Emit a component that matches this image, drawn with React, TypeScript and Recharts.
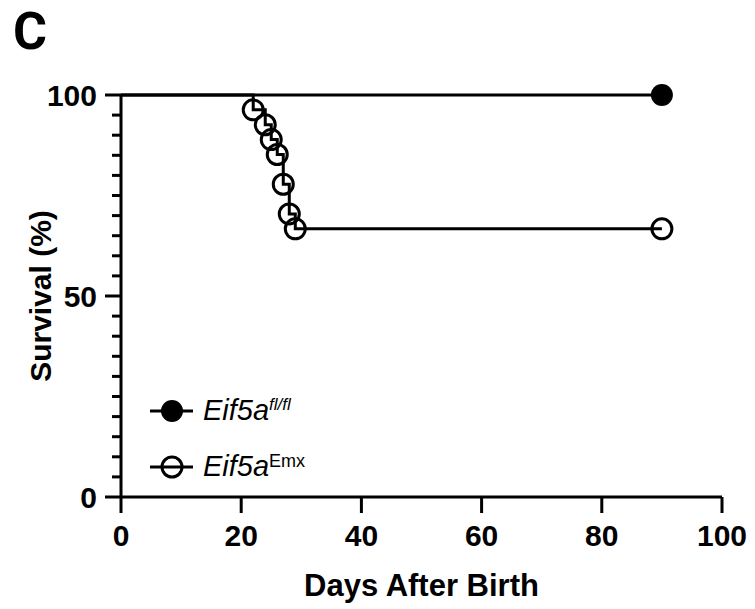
import React from "react";
import {
  LineChart, Line, XAxis, YAxis, Legend,
} from "recharts";

// Kaplan-Meier survival, days after birth
const flDays = [0, 90];
const flSurvival = [100, 100];

const emxDays = [0, 22, 24, 25, 26, 27, 28, 29, 90];
const emxSurvival = [100, 96.3, 92.6, 88.9, 85.2, 77.8, 70.4, 66.7, 66.7];

const xTicks = [0, 20, 40, 60, 80, 100];
const yTicks = [0, 5, 10, 15, 20, 25, 30, 35, 40, 45, 50, 55, 60, 65, 70, 75, 80, 85, 90, 95, 100];
const yLabeled = [0, 50, 100];

const flData = flDays.map((d, i) => ({ day: d, survival: flSurvival[i] }));
const emxData = emxDays.map((d, i) => ({ day: d, survival: emxSurvival[i] }));

const FONT = "'Liberation Sans', Arial, sans-serif";

function YTick(props: any) {
  const { x, y, payload } = props;
  const major = yLabeled.includes(payload.value);
  const len = major ? 16 : 9;
  return (
    <g>
      <line x1={x - len} x2={x} y1={y} y2={y} stroke="#000" strokeWidth={3} />
      {major && (
        <text x={x - 24} y={y} dy="0.36em" textAnchor="end"
          fontFamily={FONT} fontWeight="bold" fontSize={30} fill="#000">
          {payload.value}
        </text>
      )}
    </g>
  );
}

function FlDot(props: any) {
  const { cx, cy, payload } = props;
  if (payload.day !== 90) return <g key={`fl-${payload.day}`} />;
  return <circle key={`fl-${payload.day}`} cx={cx} cy={cy} r={11} fill="#000" />;
}

function EmxDot(props: any) {
  const { cx, cy, payload } = props;
  if (payload.day === 0) return <g key={`emx-${payload.day}`} />;
  return (
    <circle key={`emx-${payload.day}`} cx={cx} cy={cy} r={10} fill="none" stroke="#000" strokeWidth={3} />
  );
}

function LegendBox() {
  return (
    <svg width={200} height={100} style={{ overflow: "visible" }}>
      <line x1={2} x2={45} y1={21} y2={21} stroke="#000" strokeWidth={3} />
      <circle cx={24} cy={21} r={11} fill="#000" />
      <text x={55} y={30} fontFamily={FONT} fontSize={29} fill="#000">
        <tspan fontStyle="italic">Eif5a</tspan>
        <tspan fontStyle="italic" fontSize={17} dy={-10}>fl/fl</tspan>
      </text>
      <line x1={2} x2={45} y1={77} y2={77} stroke="#000" strokeWidth={3} />
      <circle cx={24} cy={77} r={10} fill="none" stroke="#000" strokeWidth={3} />
      <text x={55} y={86} fontFamily={FONT} fontSize={29} fill="#000">
        <tspan fontStyle="italic">Eif5a</tspan>
        <tspan fontSize={18} dy={-9}>Emx</tspan>
      </text>
    </svg>
  );
}

export default function App() {
  return (
    <div style={{ position: "absolute", left: 0, top: 0, width: 755, height: 609, background: "#fff" }}>
      <svg width={90} height={90} style={{ position: "absolute", left: 0, top: 0, zIndex: 2 }}>
        <text x={13} y={49} fontFamily="Roboto, sans-serif" fontWeight="bold" fontSize={52} fill="#000">C</text>
      </svg>
      <LineChart width={755} height={609} margin={{ top: 95, right: 33, bottom: 0, left: 0 }}>
        <XAxis
          type="number" dataKey="day" domain={[0, 100]} ticks={xTicks}
          allowDuplicatedCategory={false} height={112}
          axisLine={{ stroke: "#000", strokeWidth: 3 }}
          tickLine={{ stroke: "#000", strokeWidth: 3 }}
          tickSize={16} tickMargin={12}
          tick={{ fontFamily: FONT, fontWeight: "bold", fontSize: 30, fill: "#000" }}
          label={(p: any) => {
            const vb = p.viewBox;
            return (
              <text x={vb.x + vb.width / 2} y={vb.y + 99} textAnchor="middle"
                fontFamily={FONT} fontWeight="bold" fontSize={31} fill="#000">
                Days After Birth
              </text>
            );
          }}
        />
        <YAxis
          type="number" domain={[0, 100]} ticks={yTicks} interval={0} width={121}
          axisLine={{ stroke: "#000", strokeWidth: 3 }}
          tickLine={false} tickSize={0} tickMargin={0}
          tick={<YTick />}
          label={(p: any) => {
            const vb = p.viewBox;
            const cx = vb.x + 40;
            const cy = vb.y + vb.height / 2;
            return (
              <text x={cx} y={cy} dy="0.36em" textAnchor="middle" transform={`rotate(-90 ${cx} ${cy})`}
                fontFamily={FONT} fontWeight="bold" fontSize={30} fill="#000">
                Survival (%)
              </text>
            );
          }}
        />
        <Legend
          layout="vertical" align="center" verticalAlign="middle"
          wrapperStyle={{ position: "absolute", left: 148, top: 390, width: 200, height: 100 }}
          content={() => <LegendBox />}
        />
        <Line
          data={flData} dataKey="survival" name="Eif5a fl/fl" type="stepAfter"
          stroke="#000" strokeWidth={3} dot={<FlDot />} activeDot={false}
          isAnimationActive={false}
        />
        <Line
          data={emxData} dataKey="survival" name="Eif5a Emx" type="stepAfter"
          stroke="#000" strokeWidth={3} dot={<EmxDot />} activeDot={false}
          isAnimationActive={false}
        />
      </LineChart>
    </div>
  );
}
